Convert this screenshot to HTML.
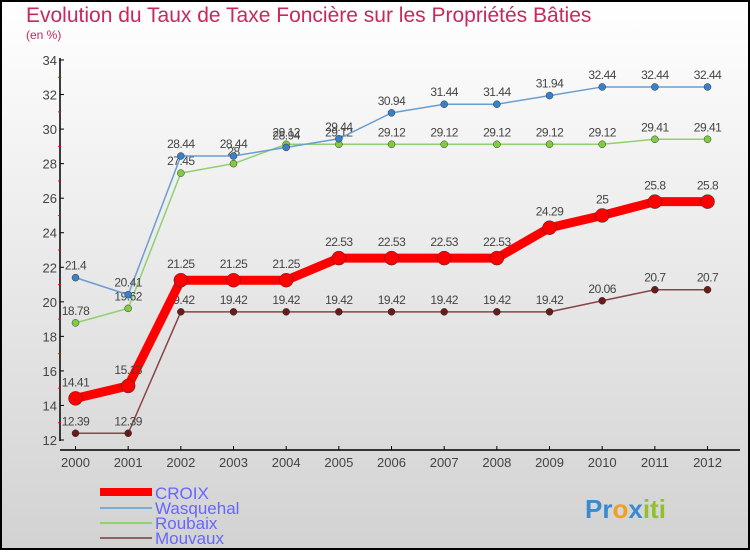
<!DOCTYPE html>
<html><head><meta charset="utf-8"><style>
body{margin:0;}
svg text{font-family:"Liberation Sans",sans-serif;}
</style></head><body>
<svg width="750" height="550" xmlns="http://www.w3.org/2000/svg">
<defs><linearGradient id="bg" x1="0" y1="0" x2="0" y2="1"><stop offset="0" stop-color="#ffffff"/><stop offset="1" stop-color="#d2d2d2"/></linearGradient></defs>
<rect x="1" y="1" width="748" height="548" fill="url(#bg)" stroke="#000" stroke-width="2"/>
<text x="26" y="22" font-size="21" fill="#c8285a">Evolution du Taux de Taxe Foncière sur les Propriétés Bâties</text>
<text x="26" y="39" font-size="12" fill="#c8285a">(en %)</text>
<g id="axes"></g>
<g id="series"></g>
<g id="legend">
<rect x="100" y="488" width="52" height="8" fill="#f00"/>
<text x="155" y="499" font-size="17" fill="#6666ff">CROIX</text>
<line x1="100" y1="508" x2="152" y2="508" stroke="#7aaed0" stroke-width="2"/>
<text x="155" y="514" font-size="17" fill="#6666ff">Wasquehal</text>
<line x1="100" y1="523" x2="152" y2="523" stroke="#90d070" stroke-width="2"/>
<text x="155" y="529" font-size="17" fill="#6666ff">Roubaix</text>
<line x1="100" y1="538" x2="152" y2="538" stroke="#906060" stroke-width="2"/>
<text x="155" y="544" font-size="17" fill="#6666ff">Mouvaux</text>
</g>
<text x="585" y="518" font-size="26" font-weight="bold"><tspan fill="#3a8ad0">Pr</tspan><tspan fill="#f0a020">o</tspan><tspan fill="#3a8ad0">x</tspan><tspan fill="#90c030">iti</tspan></text>
</svg>
<script>
const years=[2000,2001,2002,2003,2004,2005,2006,2007,2008,2009,2010,2011,2012];
const croix=[14.41,15.13,21.25,21.25,21.25,22.53,22.53,22.53,22.53,24.29,25,25.8,25.8];
const wasquehal=[21.4,20.41,28.44,28.44,28.94,29.44,30.94,31.44,31.44,31.94,32.44,32.44,32.44];
const roubaix=[18.78,19.62,27.45,28,29.12,29.12,29.12,29.12,29.12,29.12,29.12,29.41,29.41];
const mouvaux=[12.39,12.39,19.42,19.42,19.42,19.42,19.42,19.42,19.42,19.42,20.06,20.7,20.7];
const yTicks=[12,14,16,18,20,22,24,26,28,30,32,34];
const NS="http://www.w3.org/2000/svg";
const xS=i=>75.5+i*52.67;
const yS=v=>440-(v-12)*(380/22);
function mk(tag,attrs,parent){const e=document.createElementNS(NS,tag);for(const k in attrs)e.setAttribute(k,attrs[k]);parent.appendChild(e);return e;}
const ax=document.getElementById('axes');
let yl=mk('line',{x1:60,y1:58,x2:60,y2:441,stroke:'#000','stroke-width':1.5},ax);


let xl=mk('line',{x1:60,y1:450,x2:740,y2:450,stroke:'#000','stroke-width':1.5},ax);


yTicks.forEach((t,k)=>{
 const y=yS(t);
 mk('line',{x1:60,y1:y,x2:64,y2:y,stroke:'#000'},ax);
 if(k>0) mk('line',{x1:58,y1:y+17.3,x2:61,y2:y+17.3,stroke:'#f00'},ax);
 const tx=mk('text',{x:57,y:y+5,'font-size':13,fill:'#444','text-anchor':'end'},ax);
 tx.textContent=t;
 
 
});
years.forEach((yr,i)=>{
 const x=xS(i);
 mk('line',{x1:x,y1:446,x2:x,y2:450,stroke:'#000'},ax);
 const tx=mk('text',{x:x,y:467,'font-size':13,fill:'#444','text-anchor':'middle'},ax);
 tx.textContent=yr;
 
 
});
const sg=document.getElementById('series');
function draw(data,name,color,w,r,dot){
 const g=mk('g',{},sg);
 
 
 const p=mk('polyline',{points:data.map((v,i)=>xS(i)+','+yS(v)).join(' '),fill:'none',stroke:color,'stroke-width':w,'stroke-linejoin':'round'},g);
 
 
 data.forEach((v,i)=>{
  const c=mk('circle',{cx:xS(i),cy:yS(v),r:r,fill:dot,stroke:'#333','stroke-width':0.5},g);
  
  
  const t=mk('text',{x:xS(i),y:yS(v)-(name==='croix'?12:8),'font-size':12,fill:'#444','text-anchor':'middle','letter-spacing':'-0.5'},g);
  t.textContent=v;
  
  
 });
}
draw(mouvaux,'mouvaux','#884444',1.5,3.5,'#6a1a1a');
draw(roubaix,'roubaix','#90d070',1.5,3.5,'#80cc40');
draw(wasquehal,'wasquehal','#6a9ed0',1.5,3.5,'#3a80c8');
draw(croix,'croix','#ff0000',9,7,'#ff0000');
</script>
</body></html>
